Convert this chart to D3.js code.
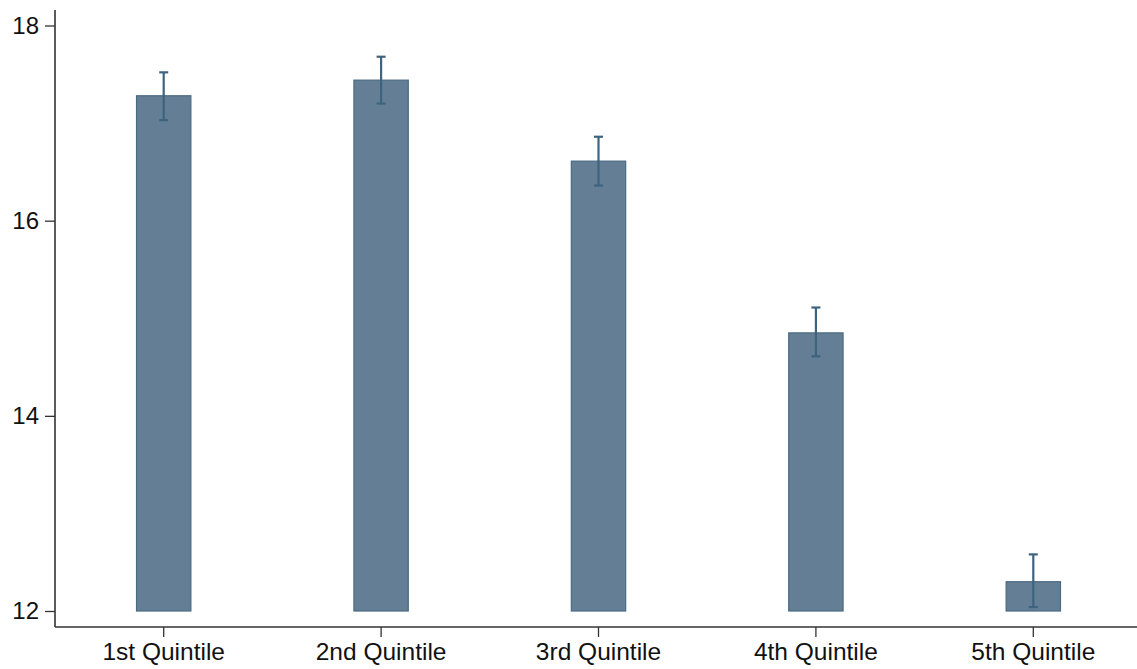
<!DOCTYPE html>
<html>
<head>
<meta charset="utf-8">
<script src="https://cdn.jsdelivr.net/npm/d3@7"></script>
<style>
  html, body { margin: 0; padding: 0; background: #fff; }
  svg { display: block; }
  text { font-family: "Liberation Sans", Arial, Helvetica, sans-serif; fill: #111; }
</style>
</head>
<body>
<svg id="chart" width="1137" height="669"></svg>
<script>
// Mean by income quintile with confidence intervals
const categories = ["1st Quintile", "2nd Quintile", "3rd Quintile", "4th Quintile", "5th Quintile"];
const means      = [17.28, 17.44, 16.61, 14.85, 12.30];
const ciLow      = [17.03, 17.20, 16.36, 14.61, 12.04];
const ciHigh     = [17.52, 17.68, 16.86, 15.11, 12.58];
const yTicks     = [12, 14, 16, 18];

const svg = d3.select("#chart");
const W = 1137, H = 669;
const left = 55, baseY = 627;

const x = d3.scaleBand().domain(categories).range([left, 1142]);
const y = d3.scaleLinear().domain([12, 18]).range([611, 25.5]);
const barW = x.bandwidth() * 0.25;

const fill = "#647f95", edge = "#4a6a82", errC = "#3e637f";

// Bars
svg.append("g").selectAll("rect").data(categories).join("rect")
  .attr("x", (d) => x(d) + x.bandwidth() / 2 - barW / 2)
  .attr("y", (d, i) => y(means[i]))
  .attr("width", barW)
  .attr("height", (d, i) => y(12) - y(means[i]))
  .attr("fill", fill)
  .attr("stroke", edge)
  .attr("stroke-width", 1.2);

// Error bars
const eg = svg.append("g").attr("stroke", errC).attr("stroke-width", 2.2);
categories.forEach((c, i) => {
  const cx = x(c) + x.bandwidth() / 2;
  eg.append("line").attr("x1", cx).attr("x2", cx).attr("y1", y(ciLow[i])).attr("y2", y(ciHigh[i]));
  eg.append("line").attr("x1", cx - 4.5).attr("x2", cx + 4.5).attr("y1", y(ciLow[i])).attr("y2", y(ciLow[i]));
  eg.append("line").attr("x1", cx - 4.5).attr("x2", cx + 4.5).attr("y1", y(ciHigh[i])).attr("y2", y(ciHigh[i]));
});

// Y axis
const yAxis = d3.axisLeft(y).tickValues(yTicks).tickSize(10).tickPadding(6).tickFormat(d3.format("d"));
const gy = svg.append("g").attr("transform", `translate(${left},0)`).call(yAxis);
gy.select(".domain").remove();
gy.selectAll(".tick line").attr("stroke", "#333").attr("stroke-width", 1.3);
gy.selectAll(".tick text").attr("font-size", 24).attr("fill", "#111");
svg.append("line").attr("x1", left).attr("x2", left).attr("y1", 10).attr("y2", baseY)
  .attr("stroke", "#333").attr("stroke-width", 1.6);

// X axis
const xAxis = d3.axisBottom(x).tickSize(10).tickPadding(6);
const gx = svg.append("g").attr("transform", `translate(0,${baseY})`).call(xAxis);
gx.select(".domain").remove();
gx.selectAll(".tick line").attr("stroke", "#333").attr("stroke-width", 1.3);
gx.selectAll(".tick text").attr("font-size", 24.5).attr("fill", "#111");
svg.append("line").attr("x1", left).attr("x2", W).attr("y1", baseY).attr("y2", baseY)
  .attr("stroke", "#333").attr("stroke-width", 1.6);
</script>
</body>
</html>
